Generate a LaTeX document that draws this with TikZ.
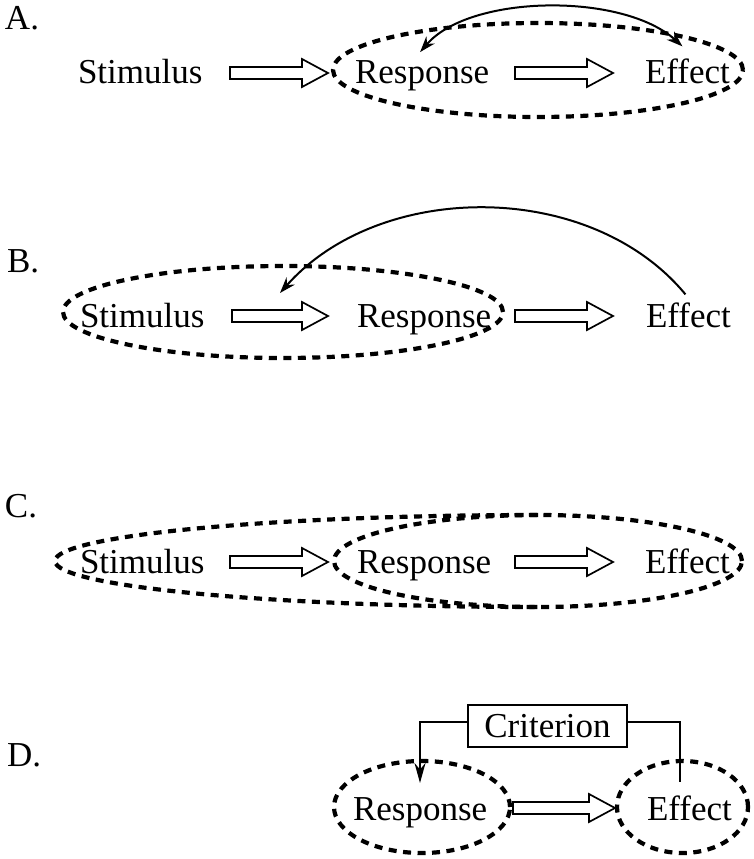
\documentclass[tikz,border=0pt]{standalone}
\usepackage{fontspec}
\setmainfont{Liberation Serif}
\usetikzlibrary{arrows.meta,calc}

\tikzset{
  word/.style={inner sep=0pt, outer sep=0pt, anchor=base west, font=\fontsize{35}{40}\selectfont},
  group/.style={line width=4.2pt, dash pattern=on 8pt off 6.5pt},
  blockarrow/.style={draw, fill=white, line width=1.7pt, line join=miter},
  feedback/.style={line width=2pt, -{Stealth[length=16pt,width=11pt]}},
  bothways/.style={line width=2pt, {Stealth[length=16pt,width=11pt]}-{Stealth[length=16pt,width=11pt]}},
  critbox/.style={draw, line width=1.2pt, inner sep=0pt, minimum width=159pt, minimum height=42pt,
    font=\fontsize{35}{40}\selectfont},
  plainline/.style={line width=2pt},
}

% hollow block arrow between two points on the same height
\newcommand\hollowarrow[2]{%
  \draw[blockarrow] let \p1=(#1), \p2=(#2) in
    (\x1,\y1+6pt) -- (\x2-26pt,\y1+6pt) -- (\x2-26pt,\y1+14pt) -- (\x2,\y1)
    -- (\x2-26pt,\y1-14pt) -- (\x2-26pt,\y1-6pt) -- (\x1,\y1-6pt) -- cycle;}

\begin{document}
\begin{tikzpicture}[x=1pt,y=-1pt]
\useasboundingbox (0,0) rectangle (753,859);

% ---------------- A ----------------
\node[word] (labA) at (5,30) {A.};
\node[word] (sA) at (78,83) {Stimulus};
\node[word] (rA) at (355,83) {Response};
\node[word] (eA) at (645,83) {Effect};
\coordinate (a1s) at (230,73);  \coordinate (a1e) at (328,73);
\coordinate (a2s) at (515,73);  \coordinate (a2e) at (613,73);
\hollowarrow{a1s}{a1e}
\hollowarrow{a2s}{a2e}
\draw[group] (538,70) ellipse [x radius=205pt, y radius=47pt];
\draw[bothways] ([xshift=-2pt,yshift=8pt]rA.north)
  .. controls +(50,-58) and +(-60,-54) .. ([xshift=-5pt,yshift=12pt]eA.north);

% ---------------- B ----------------
\node[word] (labB) at (7,272) {B.};
\node[word] (sB) at (80,327) {Stimulus};
\node[word] (rB) at (357,327) {Response};
\node[word] (eB) at (646,327) {Effect};
\coordinate (b1s) at (232,316); \coordinate (b1e) at (328,316);
\coordinate (b2s) at (515,316); \coordinate (b2e) at (613,316);
\hollowarrow{b1s}{b1e}
\hollowarrow{b2s}{b2e}
\draw[group] (283,312) ellipse [x radius=220pt, y radius=46pt];
\coordinate (bT) at (280,293);
\draw[feedback] ([xshift=-3pt,yshift=8pt]eB.north)
  .. controls +(-95,-115) and +(100,-113) .. (bT);

% ---------------- C ----------------
\node[word] (labC) at (5,517) {C.};
\node[word] (sC) at (80,573) {Stimulus};
\node[word] (rC) at (357,573) {Response};
\node[word] (eC) at (645,573) {Effect};
\coordinate (c1s) at (230,562); \coordinate (c1e) at (328,562);
\coordinate (c2s) at (515,562); \coordinate (c2e) at (613,562);
\hollowarrow{c1s}{c1e}
\hollowarrow{c2s}{c2e}
% outer group: its left half joins the inner group's outline on the right
\draw[group] (538,515) arc [start angle=90, end angle=270, x radius=483pt, y radius=46pt];
\draw[group] (538,561) ellipse [x radius=204pt, y radius=46pt];

% ---------------- D ----------------
\node[word] (labD) at (7,766) {D.};
\node[word] (rD) at (353,820) {Response};
\node[word] (eD) at (647,820) {Effect};
\coordinate (d1s) at (513,808); \coordinate (d1e) at (615,808);
\hollowarrow{d1s}{d1e}
\draw[group] (422,807) ellipse [x radius=88pt, y radius=46pt];
\draw[group] (682.5,807) ellipse [x radius=65.5pt, y radius=46pt];
\node[critbox] (crit) at (547.5,726) {Criterion};
\coordinate (dR) at (420,783);
\coordinate (dE) at (680,782);
\draw[plainline, -{Stealth[length=20pt,width=11pt]}] ([yshift=4pt]crit.west) -| (dR);
\draw[plainline] ([yshift=4pt]crit.east) -| (dE);
\end{tikzpicture}
\end{document}
